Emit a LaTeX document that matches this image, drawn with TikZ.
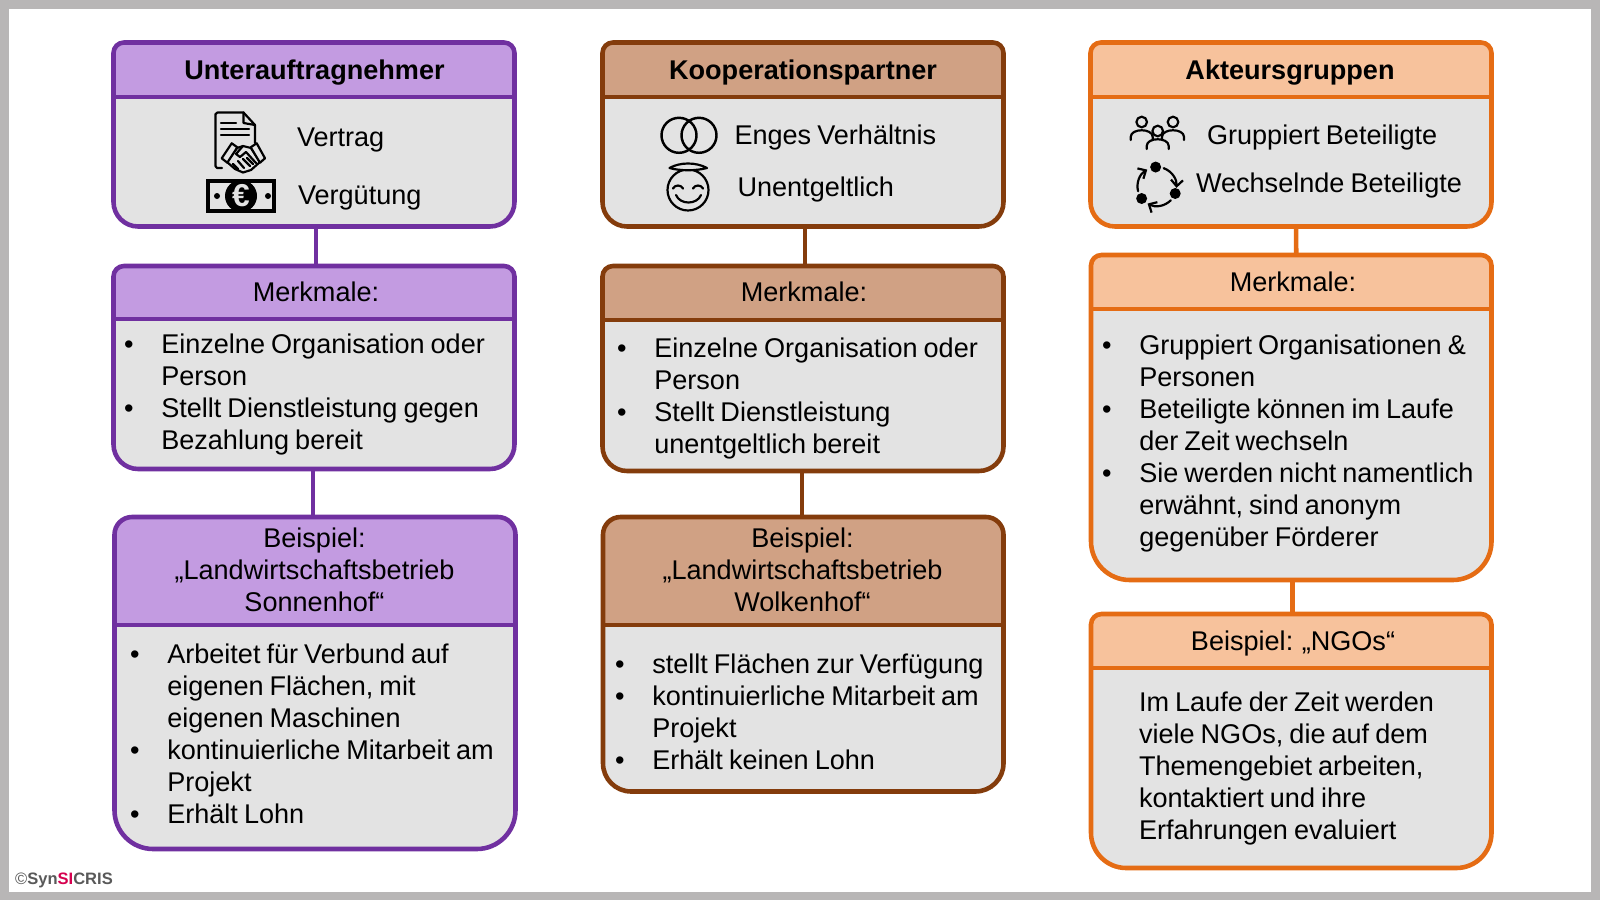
\documentclass[tikz,border=0pt]{standalone}
\usepackage{fontspec}
\setmainfont[WordSpace=0.8]{Liberation Sans}
\usetikzlibrary{arrows.meta,calc}
\definecolor{purpLine}{HTML}{7030A0}
\definecolor{purpFill}{HTML}{C39BE1}
\definecolor{brwnLine}{HTML}{843C0C}
\definecolor{brwnFill}{HTML}{D0A184}
\definecolor{orngLine}{HTML}{E56C14}
\definecolor{orngFill}{HTML}{F7C29C}
\definecolor{bodyFill}{HTML}{E3E3E3}
\definecolor{frameGray}{HTML}{B8B6B6}
\definecolor{markGray}{HTML}{595959}
\definecolor{markRed}{HTML}{D6004F}
\newcommand{\txtfont}{\fontsize{7.7}{9.1}\selectfont}
\newcommand{\bul}{\makebox[10.6pt][l]{•}}
\newcommand{\hng}{\makebox[10.6pt][l]{}}
\tikzset{
  txtleft/.style={inner sep=0pt, outer sep=0pt, anchor=west, align=left, font=\txtfont, text=black},
  txtmid/.style={inner sep=0pt, outer sep=0pt, align=center, font=\txtfont, text=black},
  txttitle/.style={inner sep=0pt, outer sep=0pt, font=\txtfont\bfseries, text=black},
  conn/.style={line width=1.3pt, draw=#1Line},
  panelnode/.style={rectangle, inner sep=0pt, outer sep=0pt},
  icon/.style={line width=0.62pt, draw=black, line cap=round, line join=round},
}
% name, colour, left, right, top, divider, bottom, top radius, bottom radius
\newcommand{\panel}[9]{
  \fill[#2Fill] (#3,#6) {[rounded corners=#8pt] -- (#3,#5) -- (#4,#5) -- (#4,{(#5+#6)/2})} -- (#4,#6) -- cycle;
  \fill[bodyFill] (#3,#6) {[rounded corners=#9pt] -- (#3,#7) -- (#4,#7) -- (#4,{(#6+#7)/2})} -- (#4,#6) -- cycle;
  \draw[line width=1.3pt, draw=#2Line] (#3,#6) -- (#4,#6);
  \draw[line width=1.3pt, draw=#2Line] (#3,#6) {[rounded corners=#8pt] -- (#3,#5) -- (#4,#5) -- (#4,#6)}
     {[rounded corners=#9pt] -- (#4,#7) -- (#3,#7) -- (#3,#6)} -- cycle;
  \node[panelnode, minimum width={(#4-#3)*0.01cm}, minimum height={(#7-#5)*0.01cm}] (#1) at ({(#3+#4)/2},{(#5+#7)/2}) {};
}
\begin{document}
\begin{tikzpicture}[x=0.01cm,y=-0.01cm]
  \useasboundingbox (0,0) rectangle (1600,900);
  \fill[frameGray] (0,0) rectangle (1600,900);
  \fill[white] (9,9) rectangle (1591,892);
  % first column
  \panel{subTop}{purp}{113.5}{514.5}{42.5}{97}{226.5}{3}{7}
  \panel{subMerk}{purp}{113.5}{514.5}{266}{319}{469}{3}{7}
  \panel{subBsp}{purp}{114.5}{515.5}{517}{625}{849}{5}{11}
  \draw[conn=purp] ([xshift=0.02cm]subTop.south) -- ([xshift=0.02cm]subMerk.north);
  \draw[conn=purp] ([xshift=-0.01cm]subMerk.south) -- ([xshift=-0.01cm]subBsp.north -| subMerk.south);
  \node[txttitle] (subTitle) at (314.5,72.5) {Unterauftragnehmer};
  \node[txtleft] (subVertrag) at (297,139.5) {Vertrag};
  \node[txtleft] (subVerg) at (298,198) {Vergütung};
  \node[txtmid] (subMerkT) at (316,292) {Merkmale:};
  \node[txtleft] (subMerkB) at (124,394) {\bul Einzelne Organisation oder\\\hng Person\\\bul Stellt Dienstleistung gegen\\\hng Bezahlung bereit};
  \node[txtmid] (subBspT) at (314.5,569.5) {Beispiel:\\„Landwirtschaftsbetrieb\\Sonnenhof“};
  \node[txtleft] (subBspB) at (130,734) {\bul Arbeitet für Verbund auf\\\hng eigenen Flächen, mit\\\hng eigenen Maschinen\\\bul kontinuierliche Mitarbeit am\\\hng Projekt\\\bul Erhält Lohn};
  % document with handshake
  \draw[icon] (222,168) -- (217,168) to[out=180,in=90] (215.5,166) -- (215.5,114) to[out=-90,in=180] (217.5,112.5) -- (243.5,112.5) -- (255,125) -- (255,143);
  \draw[icon] (243.5,112.5) -- (243.5,123) -- (255,125);
  \draw[icon] (221,123) -- (236,123);
  \draw[icon] (221,129) -- (249,129);
  \draw[icon] (221,135) -- (249,135);
  \draw[icon, fill=bodyFill] (237,148) -- (243,146) -- (251,148) -- (260,162) -- (251,170) -- (243,172.5) -- (235,169) -- (227,162) -- cycle;
  \draw[icon, fill=bodyFill] (221.7,158.3) -- (231.7,143.3) -- (237.3,147.3) -- (227.3,162.7) -- cycle;
  \draw[icon, fill=bodyFill] (265,158.3) -- (256.7,143.3) -- (250.7,147.3) -- (260,162.7) -- cycle;
  \draw[icon] (243,146) -- (236,154) -- (240,157) -- (246,152) -- (256,163);
  \draw[icon] (233,164) -- (238,169);
  \draw[icon] (238,161) -- (244,168);
  \draw[icon] (243,159) -- (250,166);
  \draw[icon] (247,158) -- (253,164);
  % banknote
  \draw[line width=1.1pt, draw=black, fill=bodyFill] (208,181) rectangle (274,211);
  \fill[black] (241,196) circle (16);
  \fill[black] (217,196) circle (3);
  \fill[black] (268,196) circle (3);
  \node[inner sep=0pt, font=\fontsize{9}{10}\selectfont\bfseries, text=bodyFill] (subEuro) at (241,196) {€};
  % second column
  \panel{kooTop}{brwn}{602.5}{1003.5}{42.5}{97}{226.5}{3}{7}
  \panel{kooMerk}{brwn}{602.5}{1003.5}{266}{320}{471}{3}{7}
  \panel{kooBsp}{brwn}{603}{1003.5}{517}{625}{791.5}{5}{8}
  \draw[conn=brwn] ([xshift=0.02cm]kooTop.south) -- ([xshift=0.02cm]kooMerk.north);
  \draw[conn=brwn] ([xshift=-0.01cm]kooMerk.south) -- ([xshift=-0.01cm]kooBsp.north -| kooMerk.south);
  \node[txttitle] (kooTitle) at (803,72.5) {Kooperationspartner};
  \node[txtleft] (kooEnges) at (734.5,137.5) {Enges Verhältnis};
  \node[txtleft] (kooUnent) at (737.5,189.5) {Unentgeltlich};
  \node[txtmid] (kooMerkT) at (804,292) {Merkmale:};
  \node[txtleft] (kooMerkB) at (617,398) {\bul Einzelne Organisation oder\\\hng Person\\\bul Stellt Dienstleistung\\\hng unentgeltlich bereit};
  \node[txtmid] (kooBspT) at (802.5,569.5) {Beispiel:\\„Landwirtschaftsbetrieb\\Wolkenhof“};
  \node[txtleft] (kooBspB) at (615,712) {\bul stellt Flächen zur Verfügung\\\bul kontinuierliche Mitarbeit am\\\hng Projekt\\\bul Erhält keinen Lohn};
  % rings and smiley
  \draw[icon, line width=0.7pt] (679,135.3) circle (17.5);
  \draw[icon, line width=0.7pt] (699,135.3) circle (17.5);
  \draw[icon] (688,190) circle (20.5);
  \draw[icon, fill=bodyFill] (669.5,168) .. controls (680,162) and (696,162) .. (707,168) .. controls (696,171) and (680,171) .. (669.5,168) -- cycle;
  \draw[icon] (673,188.5) .. controls (675,184.5) and (681,184.5) .. (683,188.5);
  \draw[icon] (693,188.5) .. controls (695,184.5) and (701,184.5) .. (703,188.5);
  \draw[icon] (676,195) .. controls (680,205) and (697,205) .. (701,195);
  % third column
  \panel{grpTop}{orng}{1090.5}{1491.5}{42.5}{97}{226.5}{3}{7}
  \panel{grpMerk}{orng}{1091}{1491.5}{255}{309}{580}{3}{11}
  \panel{grpBsp}{orng}{1091}{1491.5}{614}{668}{868}{3}{10}
  \draw[conn=orng] ([xshift=0.05cm]grpTop.south) -- ([xshift=0.05cm]grpMerk.north);
  \draw[conn=orng] ([xshift=0.01cm]grpMerk.south) -- ([xshift=0.01cm]grpBsp.north -| grpMerk.south);
  \node[txttitle] (grpTitle) at (1290,72.5) {Akteursgruppen};
  \node[txtleft] (grpGruppe) at (1207,137.5) {Gruppiert Beteiligte};
  \node[txtleft] (grpWechsel) at (1196,185.5) {Wechselnde Beteiligte};
  \node[txtmid] (grpMerkT) at (1293,282) {Merkmale:};
  \node[txtleft] (grpMerkB) at (1102,443.5) {\bul Gruppiert Organisationen \&\\\hng Personen\\\bul Beteiligte können im Laufe\\\hng der Zeit wechseln\\\bul Sie werden nicht namentlich\\\hng erwähnt, sind anonym\\\hng gegenüber Förderer};
  \node[txtmid] (grpBspT) at (1293,643) {Beispiel: „NGOs“};
  \node[txtleft] (grpBspB) at (1139,768) {Im Laufe der Zeit werden\\viele NGOs, die auf dem\\Themengebiet arbeiten,\\kontaktiert und ihre\\Erfahrungen evaluiert};
  % three people
  \foreach \hx/\hy in {1141.7/122, 1173/122, 1157.7/131}{
    \draw[icon, fill=bodyFill] (\hx,\hy) circle (5.3);
    \draw[icon] (\hx-11,\hy+18) -- (\hx-11,\hy+15) .. controls (\hx-11,\hy+6) and (\hx+11,\hy+6) .. (\hx+11,\hy+15) -- (\hx+11,\hy+18);
  }
  % cycle of dots
  \coordinate (grpRing) at (1157,186.5);
  \foreach \dA in {-94,21,142}{
    \fill[black] ([shift={(\dA:19.5)}]grpRing) circle (5.5);
    \draw[icon, -{Straight Barb[length=1.8pt,width=3.4pt]}] ([shift={(\dA+24:19.5)}]grpRing) arc[start angle=\dA+24, end angle=\dA+98, radius=19.5];
  }
  % copyright mark
  \node[inner sep=0pt, anchor=west, font=\fontsize{4.7}{5.5}\selectfont\bfseries, text=markGray] (markTxt) at (14.5,880.5) {{\mdseries©}Syn\textcolor{markRed}{SI}CRIS};
\end{tikzpicture}
\end{document}
